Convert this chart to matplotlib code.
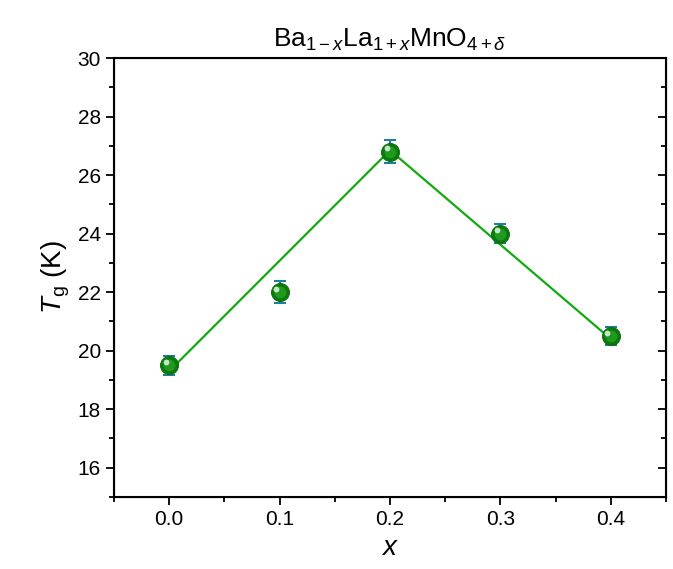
import numpy as np
import matplotlib
matplotlib.use("Agg")
import matplotlib.pyplot as plt
from matplotlib.ticker import MultipleLocator

plt.rcParams['font.family'] = ['Liberation Sans', 'DejaVu Sans']
plt.rcParams['mathtext.fontset'] = 'custom'
plt.rcParams['mathtext.rm'] = 'Liberation Sans'
plt.rcParams['mathtext.it'] = 'Liberation Sans:italic'
plt.rcParams['mathtext.cal'] = 'Liberation Sans'

# data
x = [0.0, 0.1, 0.2, 0.3, 0.4]
tg = [19.5, 22.0, 26.8, 24.0, 20.5]
tg_err = [0.32, 0.38, 0.4, 0.32, 0.3]

# piecewise linear guide
fit_x = [0.0, 0.2, 0.4]
fit_y = [19.3, 26.85, 20.4]

fig = plt.figure(figsize=(6.73, 5.69), dpi=100)
ax = fig.add_axes([0.1694, 0.1265, 0.8202, 0.7715])

ax.plot(fit_x, fit_y, color='#11aa11', lw=1.6, zorder=2)
ax.errorbar(x, tg, yerr=tg_err, fmt='none', ecolor='#1e7f9a', elinewidth=1.5,
            capsize=4.5, capthick=1.5, zorder=3)
# marker with a small highlight to mimic the shaded sphere
ax.plot(x, tg, 'o', ms=13, mfc='#0a7a0a', mec='#0a6a0a', mew=0.6, zorder=4)
ax.plot(x, tg, 'o', ms=8.5, mfc='#1f9a1f', mec='none', zorder=5)
ax.plot(np.array(x) - 0.003, np.array(tg) + 0.12, 'o', ms=4.2,
        mfc='#d8f0d8', mec='none', alpha=0.9, zorder=6)

ax.set_xlim(-0.05, 0.45)
ax.set_ylim(15, 30)
ax.xaxis.set_major_locator(MultipleLocator(0.1))
ax.xaxis.set_minor_locator(MultipleLocator(0.05))
ax.yaxis.set_major_locator(MultipleLocator(2))
ax.yaxis.set_minor_locator(MultipleLocator(1))
ax.set_xticks([0.0, 0.1, 0.2, 0.3, 0.4])
ax.set_xticklabels(['0.0', '0.1', '0.2', '0.3', '0.4'])

ax.tick_params(which='both', direction='out', width=1.3, labelsize=15,
               right=False, top=False)
ax.tick_params(which='major', length=6)
ax.tick_params(which='minor', length=3.5)
for sp in ax.spines.values():
    sp.set_linewidth(1.5)

# right side ticks point inward, no labels
axr = ax.twinx()
axr.set_ylim(ax.get_ylim())
axr.yaxis.set_major_locator(MultipleLocator(2))
axr.yaxis.set_minor_locator(MultipleLocator(1))
axr.tick_params(which='both', direction='in', width=1.3, labelright=False)
axr.tick_params(which='major', length=6)
axr.tick_params(which='minor', length=3.5)

ax.set_xlabel('$x$', fontsize=20)
ax.set_ylabel('$T$$_{\\mathrm{g}}$ (K)', fontsize=20)
ax.set_title('Ba$_{1\u2212x}$La$_{1+x}$MnO$_{4+\\delta}$', fontsize=19, pad=8)

fig.savefig('out.png', dpi=100)
